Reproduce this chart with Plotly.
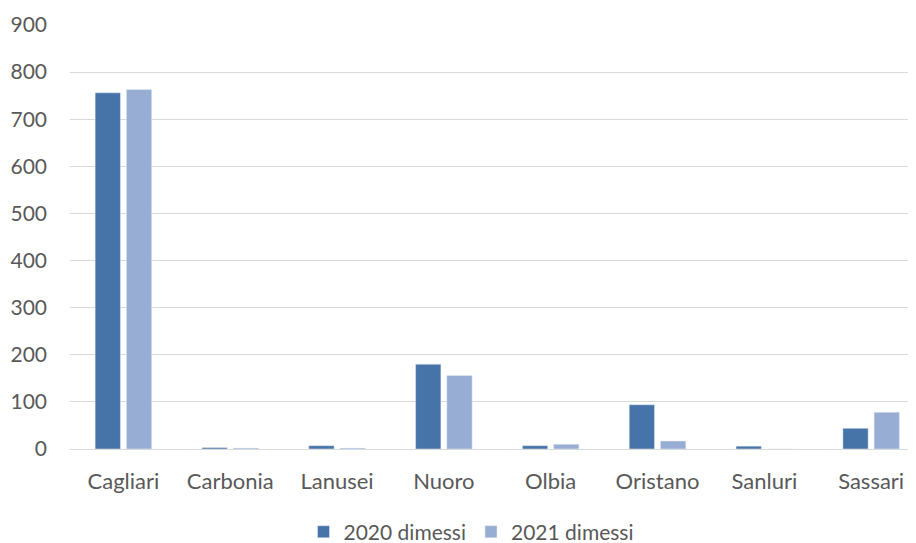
import plotly.graph_objects as go

categories = ["Cagliari", "Carbonia", "Lanusei", "Nuoro", "Olbia", "Oristano", "Sanluri", "Sassari"]
dimessi_2020 = [756, 3, 7, 180, 7, 94, 6, 44]
dimessi_2021 = [763, 2, 2, 156, 10, 17, 0, 78]
y_ticks = [0, 100, 200, 300, 400, 500, 600, 700, 800, 900]

fig = go.Figure()
fig.add_trace(go.Bar(x=categories, y=dimessi_2020, name="2020 dimessi",
                     marker=dict(color="#4674A9")))
fig.add_trace(go.Bar(x=categories, y=dimessi_2021, name="2021 dimessi",
                     marker=dict(color="#97ADD3")))

fig.update_layout(
    width=908, height=535,
    margin=dict(l=62, r=0, t=17, b=94, autoexpand=False),
    plot_bgcolor="white", paper_bgcolor="white",
    font=dict(family="Lato", size=21, color="#595959"),
    barmode="group", bargap=0.415, bargroupgap=0.19,
    showlegend=True,
    legend=dict(orientation="h", x=0.474, xanchor="center", y=-0.196, yanchor="middle",
                font=dict(size=21, color="#595959"), traceorder="normal"),
)
fig.update_yaxes(range=[0, 900], tickvals=y_ticks, showgrid=True, gridcolor="#D9D9D9",
                 gridwidth=1, zeroline=False, showline=False, ticklabelstandoff=22,
                 tickfont=dict(size=21))
fig.update_xaxes(range=[-0.5, 7.42], showline=True, linecolor="#D9D9D9", linewidth=1, ticks="",
                 ticklabelstandoff=13, tickfont=dict(size=22))

fig.write_html("out.html")
